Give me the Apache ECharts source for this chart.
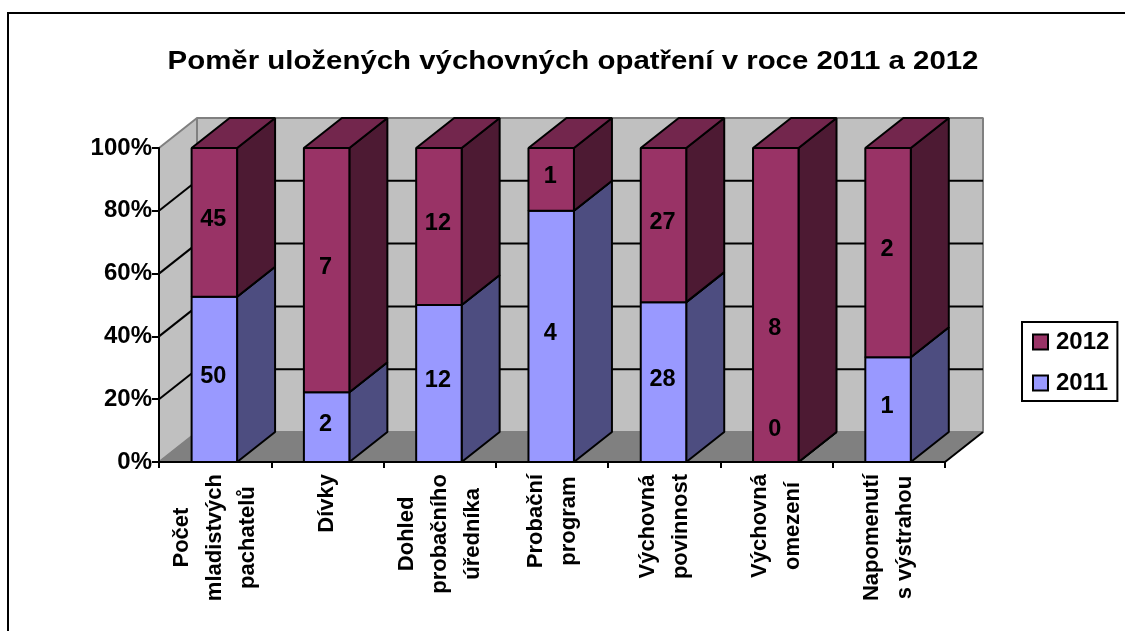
<!DOCTYPE html>
<html>
<head>
<meta charset="utf-8">
<title>Poměr uložených výchovných opatření</title>
<style>
html,body{margin:0;padding:0;background:#fff;}
#main{width:1125px;height:631px;}
</style>
<script src="https://cdn.jsdelivr.net/npm/echarts@6/dist/echarts.min.js"></script>
</head>
<body>
<div id="main"></div>
<script>
var categories = ['Počet\nmladistvých\npachatelů', 'Dívky', 'Dohled\nprobačního\núředníka', 'Probační\nprogram', 'Výchovná\npovinnost', 'Výchovná\nomezení', 'Napomenutí\ns výstrahou'];
var values2011 = [50, 2, 12, 4, 28, 0, 1];
var values2012 = [45, 7, 12, 1, 27, 8, 2];
var yTicks = [0, 20, 40, 60, 80, 100];

var font = '"Liberation Sans", Arial, sans-serif';
var depthX = 38, depthY = 30, barRatio = 0.405;

// 100% stacked: each row goes [category, from%, to%, count]
var rows2011 = [], rows2012 = [];
categories.forEach(function (c, i) {
  var sum = values2011[i] + values2012[i];
  var split = values2011[i] / sum * 100;
  rows2011.push([i, 0, split, values2011[i]]);
  rows2012.push([i, split, 100, values2012[i]]);
});

function poly(pts, fill, stroke, w) {
  return {type: 'polygon', shape: {points: pts}, style: {fill: fill, stroke: stroke, lineWidth: w || 0, lineJoin: 'bevel'}};
}
function line(a, b, color, w) {
  return {type: 'line', shape: {x1: a[0], y1: a[1], x2: b[0], y2: b[1]}, style: {stroke: color, lineWidth: w, fill: null}};
}

function renderWalls(params, api) {
  var x0 = api.coord([0, 0])[0] - api.size([1, 0])[0] / 2;
  var x1 = x0 + api.size([1, 0])[0] * categories.length;
  var bottom = api.coord([0, 0])[1], top = api.coord([0, 100])[1];
  var kids = [
    poly([[x0, top], [x0 + depthX, top - depthY], [x0 + depthX, bottom - depthY], [x0, bottom]], '#c0c0c0', '#808080', 2),
    poly([[x0 + depthX, top - depthY], [x1 + depthX, top - depthY], [x1 + depthX, bottom - depthY], [x0 + depthX, bottom - depthY]], '#c0c0c0', '#808080', 2),
    poly([[x0, bottom], [x1, bottom], [x1 + depthX, bottom - depthY], [x0 + depthX, bottom - depthY]], '#808080', '#808080', 1)
  ];
  yTicks.forEach(function (t) {
    if (t === 0 || t === 100) return;
    var y = api.coord([0, t])[1];
    kids.push(line([x0, y], [x0 + depthX, y - depthY], '#000', 2));
    kids.push(line([x0 + depthX, y - depthY], [x1 + depthX, y - depthY], '#000', 2));
  });
  kids.push(line([x1, bottom], [x1 + depthX, bottom - depthY], '#000', 2));
  return {type: 'group', children: kids};
}

function makeBars(front, side, topFace) {
  return function (params, api) {
    var i = api.value(0);
    var a = api.coord([i, api.value(1)]);
    var b = api.coord([i, api.value(2)]);
    var w = api.size([1, 0])[0] * barRatio;
    var l = a[0] - w / 2 - 0.8, r = l + w;
    var kids = [
      poly([[r, a[1]], [r + depthX, a[1] - depthY], [r + depthX, b[1] - depthY], [r, b[1]]], side, '#000', 2),
      poly([[l, b[1]], [r, b[1]], [r + depthX, b[1] - depthY], [l + depthX, b[1] - depthY]], topFace, '#000', 2),
      poly([[l, a[1]], [r, a[1]], [r, b[1]], [l, b[1]]], front, '#000', 2)
    ];
    var ly = (a[1] + b[1]) / 2 - 3;
    if (api.value(3) === 0) ly = a[1] - 32;             // empty segment, label sits above the base
    else if (i === 5) ly = (a[1] + b[1]) / 2 + 24;      // this one was moved down in the original
    kids.push({
      type: 'text', z2: 20,
      style: {x: (l + r) / 2 - 1, y: ly, text: String(api.value(3)), fill: '#000', align: 'center', verticalAlign: 'middle',
        font: 'bold 23.5px ' + font}
    });
    return {type: 'group', children: kids};
  };
}

var chart = echarts.init(document.getElementById('main'));
chart.setOption({
  animation: false,
  backgroundColor: '#fff',
  graphic: [
    {type: 'rect', z: -10, shape: {x: 8, y: 13, width: 1200, height: 700}, style: {fill: null, stroke: '#000', lineWidth: 2}},
    // the original title is stretched wider than the plain font
    {type: 'text', x: 573, y: 62, scaleX: 1.11, originX: 0, originY: 0,
      style: {text: 'Poměr uložených výchovných opatření v roce 2011 a 2012', align: 'center', verticalAlign: 'middle',
        fill: '#000', font: 'bold 26.5px ' + font}}
  ],
  legend: {
    orient: 'vertical', left: 1022, top: 322,
    data: ['2012', '2011'],
    icon: 'rect', itemWidth: 15, itemHeight: 15, itemGap: 17,
    padding: [8, 8, 6, 10],
    borderColor: '#000', borderWidth: 2, backgroundColor: '#fff',
    textStyle: {color: '#000', fontFamily: font, fontWeight: 'bold', fontSize: 24, padding: [0, 0, 0, 3]}
  },
  grid: {left: 159, right: 180, top: 148, bottom: 169},
  xAxis: {
    type: 'category', data: categories, z: 5,
    axisLine: {lineStyle: {color: '#000', width: 2}},
    axisTick: {show: true, length: 6, lineStyle: {color: '#000', width: 2}},
    axisLabel: {
      interval: 0, rotate: 90, margin: 12, color: '#000',
      formatter: function (v) {
        return v.split('\n').map(function (s) { return '{l|' + s + '}'; }).join('\n');
      },
      rich: {l: {fontFamily: font, fontWeight: 'bold', fontSize: 22, lineHeight: 33, align: 'center', color: '#000'}}
    }
  },
  yAxis: {
    type: 'value', min: 0, max: 100, interval: 20, z: 5,
    axisLine: {show: true, lineStyle: {color: '#000', width: 2}},
    axisTick: {show: true, length: 7, lineStyle: {color: '#000', width: 2}},
    splitLine: {show: false},
    axisLabel: {formatter: '{value}%', margin: 7, color: '#000', fontFamily: font, fontWeight: 'bold', fontSize: 24}
  },
  series: [
    {name: 'walls', type: 'custom', silent: true, z: 1, data: [[0]], renderItem: renderWalls, encode: {x: 0}},
    {name: '2011', type: 'custom', z: 2, data: rows2011, itemStyle: {color: '#9999ff', borderColor: '#000', borderWidth: 2},
      renderItem: makeBars('#9999ff', '#4d4d80', '#737399'), encode: {x: 0, y: [1, 2]}},
    {name: '2012', type: 'custom', z: 2, data: rows2012, itemStyle: {color: '#993366', borderColor: '#000', borderWidth: 2},
      renderItem: makeBars('#993366', '#4d1a33', '#73264d'), encode: {x: 0, y: [1, 2]}}
  ]
});
</script>
</body>
</html>
